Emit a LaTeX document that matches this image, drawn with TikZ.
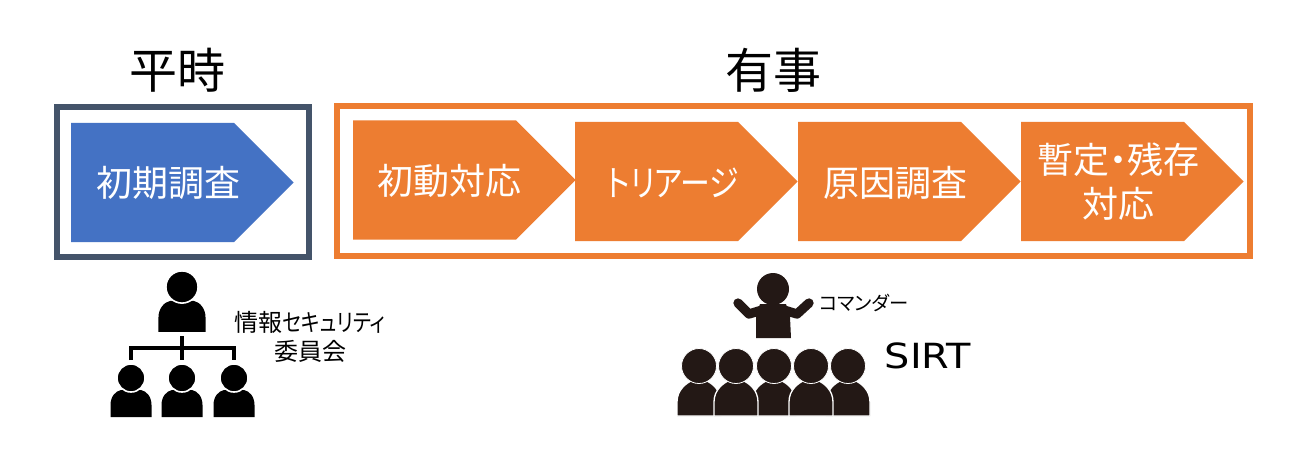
\documentclass[tikz,border=0pt]{standalone}
\usepackage{fontspec}
\setmainfont[RawFeature={+palt}]{Noto Sans CJK JP}
\newfontfamily\kanafont[RawFeature={+palt}, FakeStretch=0.83]{Noto Sans CJK JP}
\newfontfamily\latinfont[FakeStretch=1.15]{DejaVu Sans}
\usetikzlibrary{shapes.symbols, calc}

\definecolor{slateblue}{HTML}{44546A}
\definecolor{stepblue}{HTML}{4472C4}
\definecolor{steporange}{HTML}{ED7D31}
\definecolor{darkperson}{HTML}{231815}

\tikzset{
	framebox/.style={draw, line width=4.5pt, fill=white, minimum width=189pt, minimum height=112.5pt, inner sep=0pt},
	stepbox/.style={signal, signal to=east, signal pointer angle=90, fill=steporange,
		inner sep=0pt, anchor=center, minimum width=167pt, minimum height=89.5pt},
	steptext/.style={text=white, font=\fontsize{27pt}{33pt}\selectfont, align=center, inner sep=0pt},
	headline/.style={font=\fontsize{36pt}{40pt}\selectfont, inner sep=0pt},
	smalltext/.style={font=\fontsize{18pt}{22pt}\selectfont, align=center, inner sep=0pt},
	orgperson/.pic={
		\fill (-20.5,39) -- (-20.5,27) .. controls (-20.5,18) and (-15,13) .. (-10,12)
			-- (10,12) .. controls (15,13) and (20.5,18) .. (20.5,27) -- (20.5,39) -- cycle;
		\draw[fill=black, draw=white, line width=1.2pt] (0,0) circle (14);
	},
	sirtperson/.pic={
		\draw[fill=darkperson, draw=white, line width=1pt] (-22,50) -- (-22,36)
			.. controls (-22,24) and (-13,17) .. (-6,14) -- (6,14)
			.. controls (13,17) and (22,24) .. (22,36) -- (22,50) -- cycle;
		\draw[fill=darkperson, draw=white, line width=0.6pt] (0,0) circle (17.5);
	},
}

\begin{document}
\begin{tikzpicture}[x=0.75pt, y=-0.75pt]
	\useasboundingbox (0,0) rectangle (1307,462);

	\node[headline] (calm)   at (177,70) {平時};
	\node[headline] (crisis) at (773,70) {有事};

	\node[framebox, draw=slateblue] (calmframe) at (183,182) {};
	\node[framebox, draw=steporange, minimum width=684.75pt] (crisisframe) at (793.5,181) {};

	\node[stepbox, fill=stepblue] (survey) at (152.5,182.5) {};
	\node[stepbox] (first)  at (434.5,180) {};
	\node[stepbox] (second) at (656.5,181.5) {};
	\node[stepbox] (third)  at (879.5,181.5) {};
	\node[stepbox] (fourth) at (1102.5,181.5) {};

	\node[steptext] (surveytext) at (168,183) {初期調査};
	\node[steptext] (firsttext)  at (449,181) {初動対応};
	\node[steptext] (secondtext) at (673,183) {\kanafont トリアージ};
	\node[steptext] (thirdtext)  at (895,183) {原因調査};
	\node[steptext] (fourthtext) at (1118,182) {暫定・残存\\対応};

	% left group
	\pic at (182,287) [scale=1.15] {orgperson};
	\pic at (131,378) {orgperson};
	\pic at (182,378) {orgperson};
	\pic at (234,378) {orgperson};

	\coordinate (orgtop)   at (182,336);
	\coordinate (orgleft)  at (131,348);
	\coordinate (orgright) at (234,348);
	\coordinate (orgdownl) at (131,360);
	\coordinate (orgdownm) at (182,360);
	\coordinate (orgdownr) at (234,360);
	\draw[line width=2.4pt] (orgdownl) -- (orgleft) -- (orgright) -- (orgdownr);
	\draw[line width=2.4pt] (orgtop) -- (orgdownm);

	\node[smalltext] (committee) at (310,337) {情報{\kanafont セキュリティ}\\委員会};

	% right group
	\fill[darkperson] (760,304) -- (786,304) -- (790,317) -- (791,338) -- (756,338) -- (756,317) -- cycle;
	\draw[darkperson, line width=7pt, line cap=round, line join=round]
		(738,303) -- (749,314) -- (762,310);
	\draw[darkperson, line width=7pt, line cap=round, line join=round]
		(809,303) -- (797,314) -- (784,310);
	\fill[darkperson] (773,289) circle (16);

	\pic at (699,366) {sirtperson};
	\pic at (774,366) {sirtperson};
	\pic at (848,366) {sirtperson};
	\pic at (736,366) {sirtperson};
	\pic at (811,366) {sirtperson};

	\node[font=\fontsize{14.5pt}{16pt}\selectfont, inner sep=0pt] (commander) at (864,303) {コマンダー};
	\node[font=\latinfont\fontsize{26pt}{30pt}\selectfont, inner sep=0pt] (sirt) at (928,356) {SIRT};
\end{tikzpicture}
\end{document}
